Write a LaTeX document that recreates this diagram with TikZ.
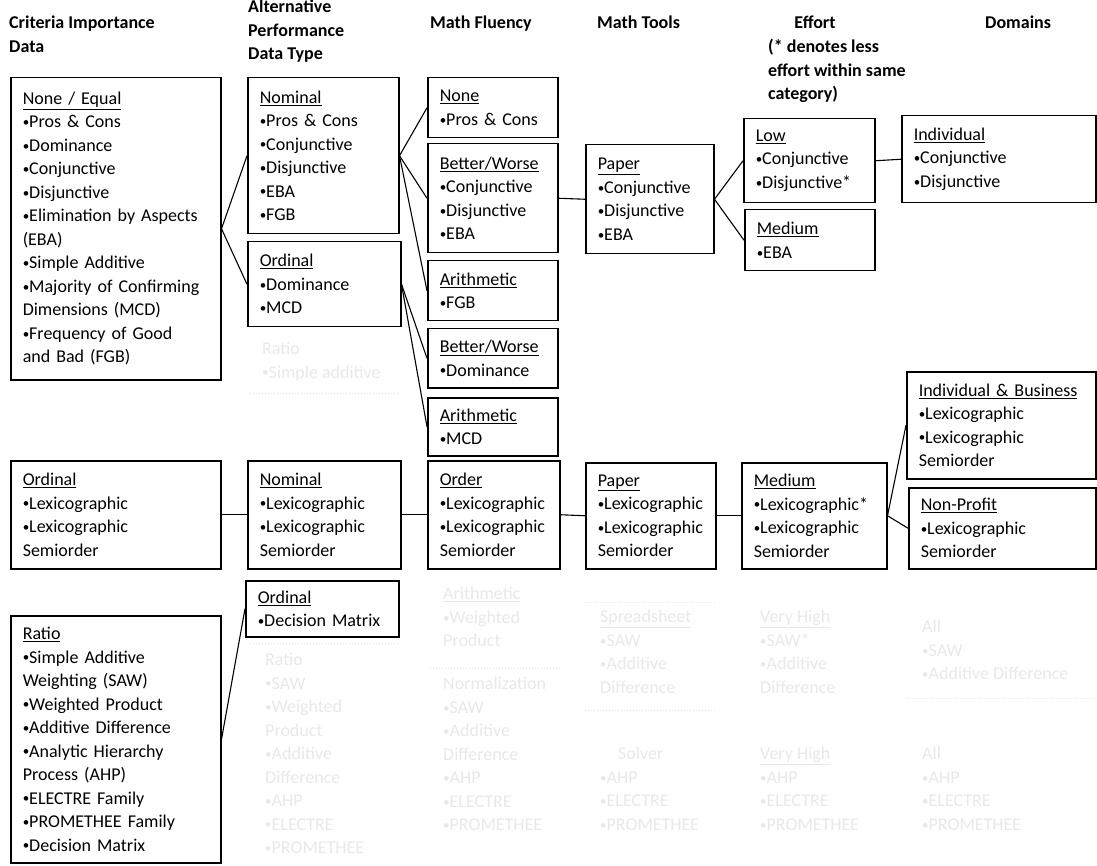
\documentclass[tikz,border=0pt]{standalone}
\usepackage{fontspec}
\setmainfont{Carlito}
\newcommand\boxfont{\fontsize{18}{23.5}\selectfont}
\newcommand\bu{\raisebox{1.2pt}{\fontsize{13}{13}\selectfont •}}
\tikzset{ box_style/.style = { rectangle % decision box
        , draw
        , line width = 1.5pt
        , anchor = north west
        , align = left
        , inner xsep = 12pt
        , inner ysep = 0pt
        , font = \boxfont
        }
        , head_style/.style = { rectangle % column heading
        , anchor = north west
        , align = left
        , inner sep = 0pt
        , font = \boxfont\bfseries
        }
        , faint_style/.style = { rectangle % washed out part
        , anchor = north west
        , align = left
        , inner sep = 0pt
        , text = black!9
        , font = \boxfont
        }
        }

\begin{document}
\begin{tikzpicture}[x=1pt, y=-1pt,
        edge_style/.style={draw=black, line width=1.1pt},
        faint_edge_style/.style={draw=black!12, line width=1pt, dotted}]
        \useasboundingbox (0,0) rectangle (1097,866);

        % headings
        \node [head_style] (h1) at (9,16) {Criteria Importance\\Data};
        \node [head_style] (h2) at (248,0) {Alternative\\Performance\\Data Type};
        \node [head_style] (h3) at (430,16) {Math Fluency};
        \node [head_style] (h4) at (597,16) {Math Tools};
        \node [head_style, align=center, anchor=north] (h5a) at (815,16) {Effort};
        \node [head_style] (h5b) at (768,39) {(* denotes less\\effort within same\\category)};
        \node [head_style] (h6) at (985,16) {Domains};

        % upper tree
        \node [box_style, text width=186pt, minimum height=302pt] (c1none) at (10,77)
            {\underline{None / Equal}\\\bu Pros \& Cons\\\bu Dominance\\\bu Conjunctive\\\bu Disjunctive\\\bu Elimination by Aspects\\(EBA)\\\bu Simple Additive\\\bu Majority of Confirming\\Dimensions (MCD)\\\bu Frequency of Good\\and Bad (FGB)};
        \node [box_style, text width=127pt, minimum height=156pt] (c2nom) at (247,77)
            {\underline{Nominal}\\\bu Pros \& Cons\\\bu Conjunctive\\\bu Disjunctive\\\bu EBA\\\bu FGB};
        \node [box_style, text width=129pt, minimum height=85pt] (c2ord) at (247,241)
            {\underline{Ordinal}\\\bu Dominance\\\bu MCD};
        \node [box_style, text width=106pt, minimum height=60pt] (c3none) at (427,77)
            {\underline{None}\\\bu Pros \& Cons};
        \node [box_style, text width=106pt, minimum height=109pt] (c3bw) at (427,143)
            {\underline{Better/Worse}\\\bu Conjunctive\\\bu Disjunctive\\\bu EBA};
        \node [box_style, text width=106pt, minimum height=60pt] (c3arfgb) at (427,260)
            {\underline{Arithmetic}\\\bu FGB};
        \node [box_style, text width=106pt, minimum height=59pt] (c3bwdom) at (427,328)
            {\underline{Better/Worse}\\\bu Dominance};
        \node [box_style, text width=106pt, minimum height=58pt] (c3armcd) at (427,397)
            {\underline{Arithmetic}\\\bu MCD};
        \node [box_style, text width=104pt, minimum height=109pt] (c4paper) at (585,144)
            {\underline{Paper}\\\bu Conjunctive\\\bu Disjunctive\\\bu EBA};
        \node [box_style, text width=107pt, minimum height=84pt] (c5low) at (743,118)
            {\underline{Low}\\\bu Conjunctive\\\bu Disjunctive*};
        \node [box_style, text width=106pt, minimum height=61pt] (c5med) at (744,209)
            {\underline{Medium}\\\bu EBA};
        \node [box_style, text width=170pt, minimum height=87pt] (c6ind) at (901,115)
            {\underline{Individual}\\\bu Conjunctive\\\bu Disjunctive};

        % lexicographic row
        \node [box_style, text width=186pt, minimum height=108pt] (c1ord) at (10,460)
            {\underline{Ordinal}\\\bu Lexicographic\\\bu Lexicographic\\Semiorder};
        \node [box_style, text width=129pt, minimum height=108pt] (c2nomlex) at (247,460)
            {\underline{Nominal}\\\bu Lexicographic\\\bu Lexicographic\\Semiorder};
        \node [box_style, text width=108pt, minimum height=108pt] (c3order) at (427,460)
            {\underline{Order}\\\bu Lexicographic\\\bu Lexicographic\\Semiorder};
        \node [box_style, text width=106pt, minimum height=106pt] (c4paperlex) at (585,462)
            {\underline{Paper}\\\bu Lexicographic\\\bu Lexicographic\\Semiorder};
        \node [box_style, text width=121pt, minimum height=106pt] (c5medlex) at (741,462)
            {\underline{Medium}\\\bu Lexicographic*\\\bu Lexicographic\\Semiorder};
        \node [box_style, text width=165pt, minimum height=107pt] (c6indbus) at (906,371)
            {\underline{Individual \& Business}\\\bu Lexicographic\\\bu Lexicographic\\Semiorder};
        \node [box_style, text width=163pt, minimum height=81pt] (c6np) at (908,487)
            {\underline{Non-Profit}\\\bu Lexicographic\\Semiorder};

        % ratio part
        \node [box_style, text width=186pt, minimum height=247pt] (c1ratio) at (10,615)
            {\underline{Ratio}\\\bu Simple Additive\\Weighting (SAW)\\\bu Weighted Product\\\bu Additive Difference\\\bu Analytic Hierarchy\\Process (AHP)\\\bu ELECTRE Family\\\bu PROMETHEE Family\\\bu Decision Matrix};
        \node [box_style, text width=129pt, minimum height=56pt] (c2orddm) at (245,580)
            {\underline{Ordinal}\\\bu Decision Matrix};

        % washed out part
        \node [faint_style] (f2a) at (262,342) {Ratio\\\bu Simple additive};
        \node [faint_style] (f2b) at (265,653) {Ratio\\\bu SAW\\\bu Weighted\\Product\\\bu Additive\\Difference\\\bu AHP\\\bu ELECTRE\\\bu PROMETHEE};
        \node [faint_style] (f3a) at (443,587) {\underline{Arithmetic}\\\bu Weighted\\Product};
        \node [faint_style] (f3b) at (443,677) {Normalization\\\bu SAW\\\bu Additive\\Difference\\\bu AHP\\\bu ELECTRE\\\bu PROMETHEE};
        \node [faint_style] (f4a) at (600,610) {\underline{Spreadsheet}\\\bu SAW\\\bu Additive\\Difference};
        \node [faint_style] (f4b) at (600,747) {\quad Solver\\\bu AHP\\\bu ELECTRE\\\bu PROMETHEE};
        \node [faint_style] (f5a) at (760,610) {\underline{Very High}\\\bu SAW*\\\bu Additive\\Difference};
        \node [faint_style] (f5b) at (760,747) {\underline{Very High}\\\bu AHP\\\bu ELECTRE\\\bu PROMETHEE};
        \node [faint_style] (f6a) at (922,620) {All\\\bu SAW\\\bu Additive Difference};
        \node [faint_style] (f6b) at (922,747) {All\\\bu AHP\\\bu ELECTRE\\\bu PROMETHEE};
        \coordinate (fr1) at (250,393);
        \coordinate (fr2) at (400,393);
        \coordinate (fr3) at (250,643);
        \coordinate (fr4) at (400,643);
        \coordinate (fr5) at (430,668);
        \coordinate (fr6) at (560,668);
        \coordinate (fr7) at (585,602);
        \coordinate (fr8) at (715,602);
        \coordinate (fr9) at (585,710);
        \coordinate (fr10) at (715,710);
        \coordinate (fr11) at (906,698);
        \coordinate (fr12) at (1095,698);
        \draw [faint_edge_style] (fr1) -- (fr2);
        \draw [faint_edge_style] (fr3) -- (fr4);
        \draw [faint_edge_style] (fr5) -- (fr6);
        \draw [faint_edge_style] (fr7) -- (fr8);
        \draw [faint_edge_style] (fr9) -- (fr10);
        \draw [faint_edge_style] (fr11) -- (fr12);

        % connectors
        \draw [edge_style] (c1none.east) -- (c2nom.west);
        \draw [edge_style] (c1none.east) -- (c2ord.west);
        \draw [edge_style] (c2nom.east) -- (c3none.west);
        \draw [edge_style] (c2nom.east) -- (c3bw.west);
        \draw [edge_style] (c2nom.east) -- (c3arfgb.west);
        \draw [edge_style] (c2ord.east) -- (c3bwdom.west);
        \draw [edge_style] (c2ord.east) -- (c3armcd.west);
        \draw [edge_style] (c3bw.east) -- (c4paper.west);
        \draw [edge_style] (c4paper.east) -- (c5low.west);
        \draw [edge_style] (c4paper.east) -- (c5med.west);
        \draw [edge_style] (c5low.east) -- (c6ind.west);
        \draw [edge_style] (c1ord.east) -- (c2nomlex.west);
        \draw [edge_style] (c2nomlex.east) -- (c3order.west);
        \draw [edge_style] (c3order.east) -- (c4paperlex.west);
        \draw [edge_style] (c4paperlex.east) -- (c5medlex.west);
        \draw [edge_style] (c5medlex.east) -- (c6indbus.west);
        \draw [edge_style] (c5medlex.east) -- (c6np.west);
        \draw [edge_style] (c1ratio.east) -- (c2orddm.west);
\end{tikzpicture}
\end{document}
